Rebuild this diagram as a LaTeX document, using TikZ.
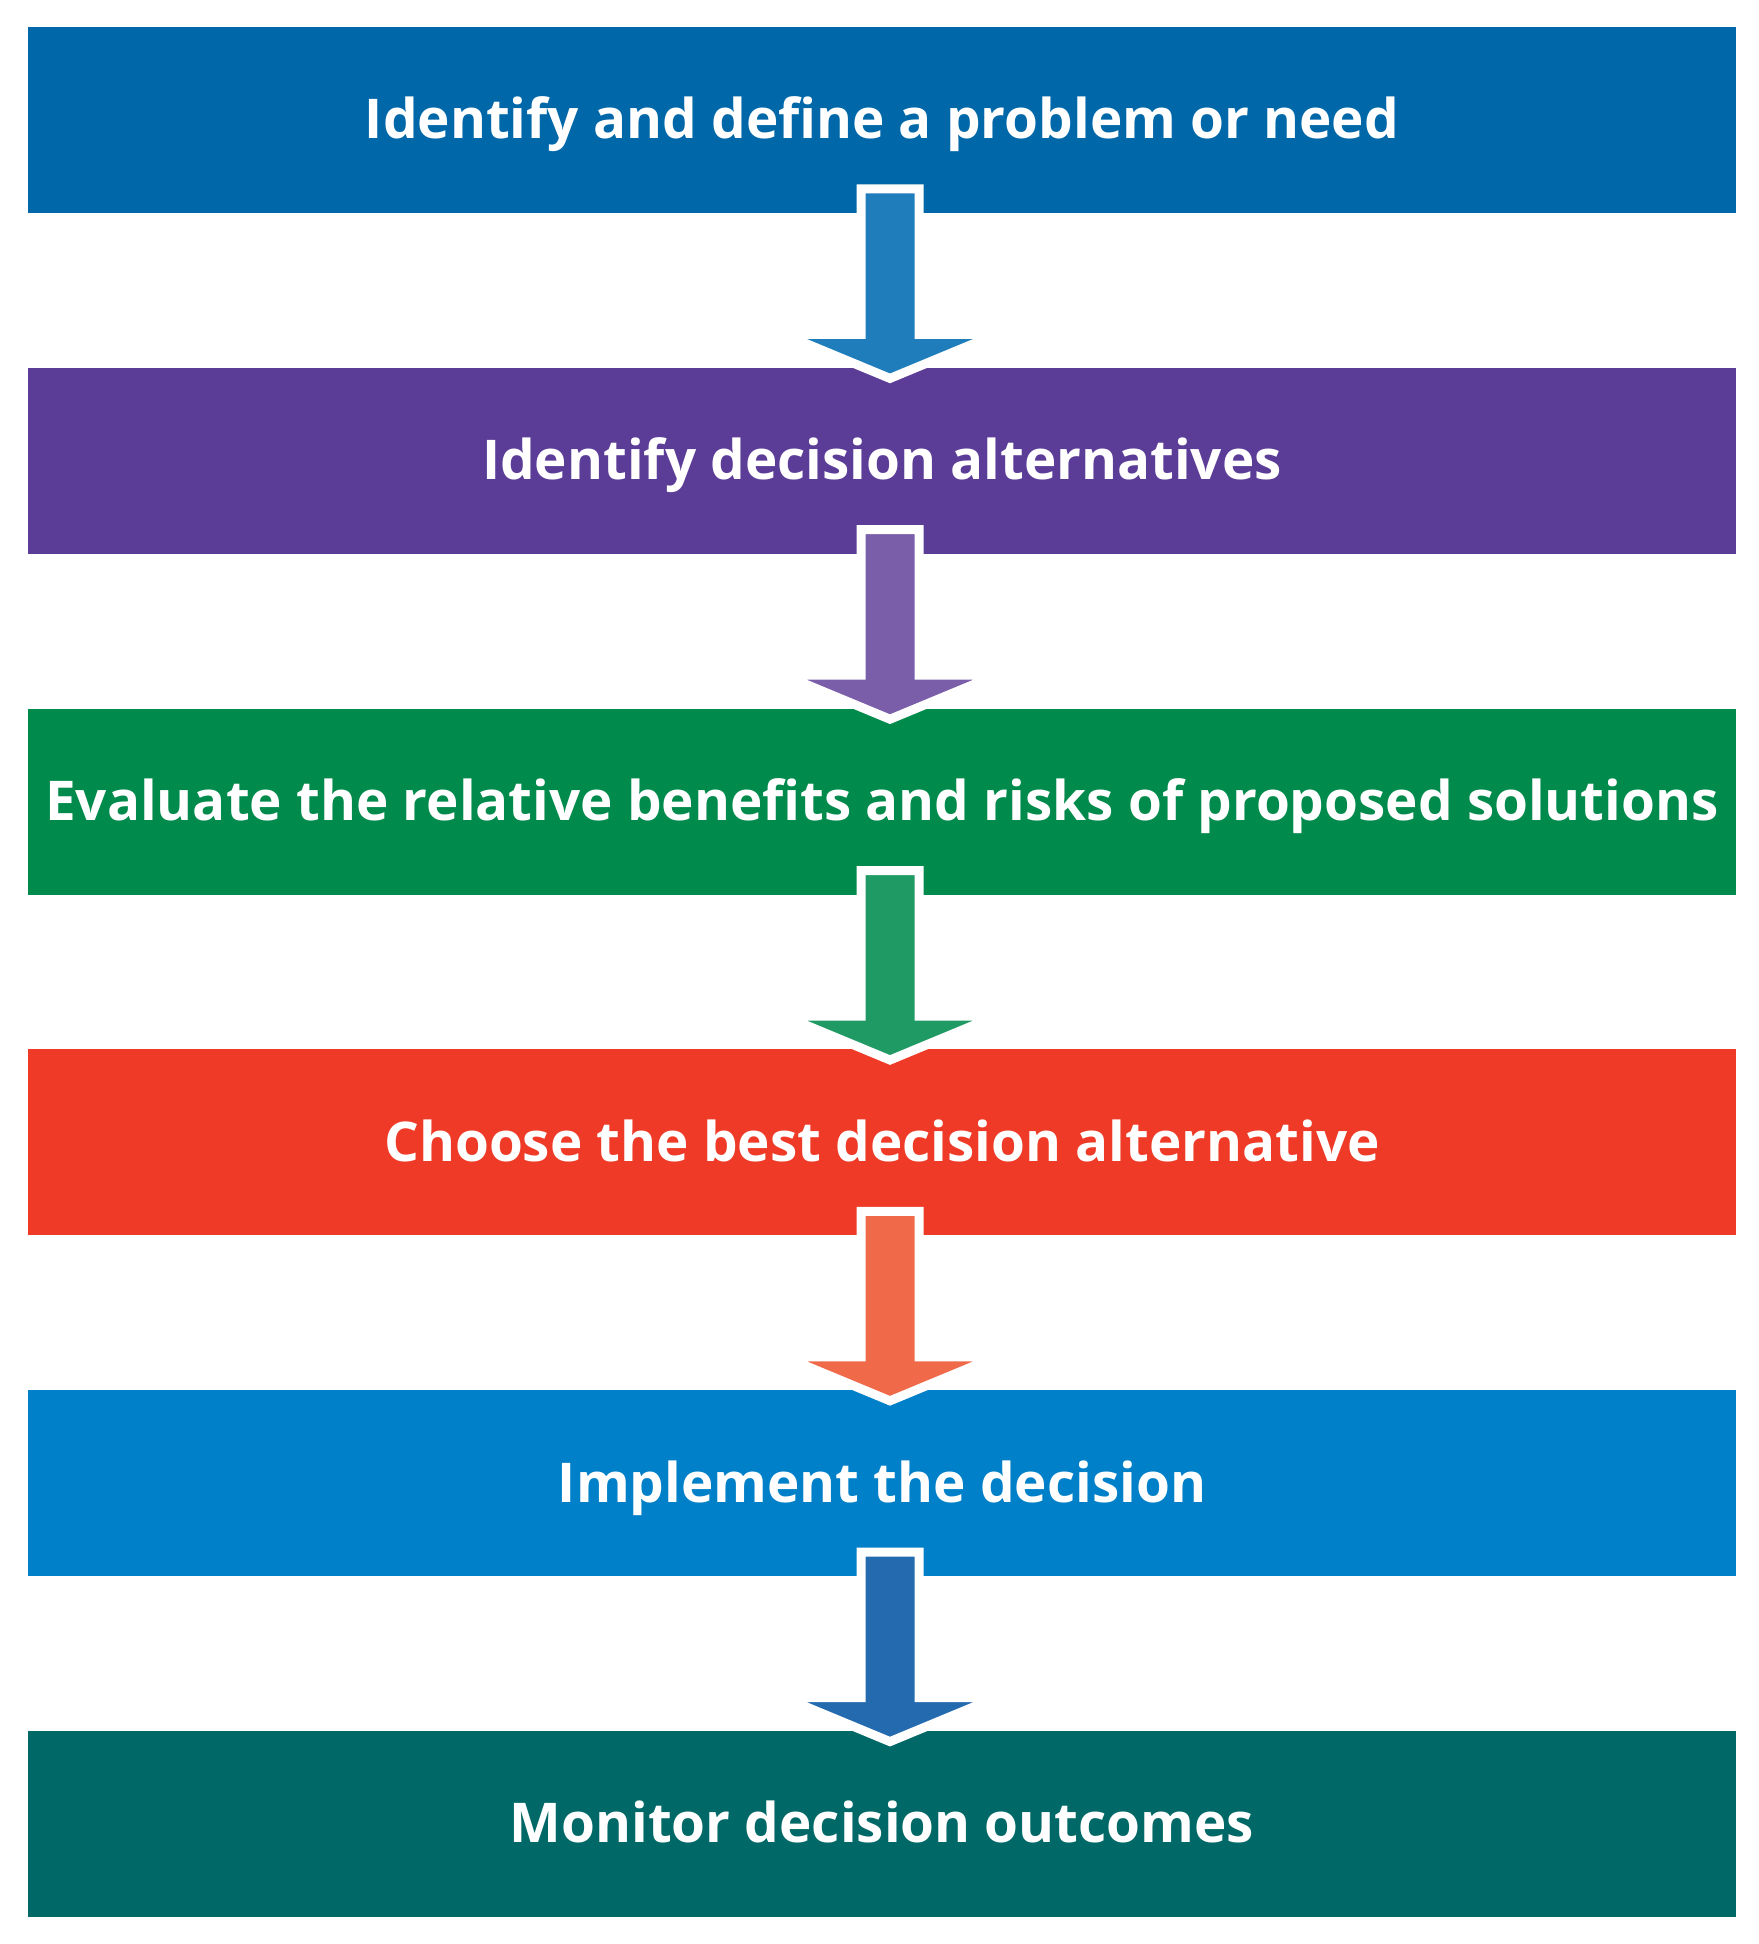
\documentclass[tikz,border=0pt]{standalone}
\usepackage{fontspec}
\setmainfont{Open Sans}
\usepackage{tikz}
\usetikzlibrary{calc}

\definecolor{needblue}{RGB}{0,104,169}
\definecolor{needarrow}{RGB}{31,125,188}
\definecolor{altpurple}{RGB}{91,60,150}
\definecolor{altarrow}{RGB}{122,94,170}
\definecolor{evalgreen}{RGB}{0,138,75}
\definecolor{evalarrow}{RGB}{31,154,100}
\definecolor{choosered}{RGB}{238,58,38}
\definecolor{choosearrow}{RGB}{240,106,74}
\definecolor{implblue}{RGB}{0,128,200}
\definecolor{implarrow}{RGB}{35,106,175}
\definecolor{monteal}{RGB}{0,104,102}

\tikzstyle{stage} = [rectangle, text=white, inner sep=0pt, minimum width=854pt, minimum height=93pt, text depth=2pt, font=\bfseries\fontsize{27.4}{33}\selectfont]
\tikzstyle{flow} = [draw=white, line width=4.5pt, line join=miter]

% block arrow hanging from the bottom of one stage into the next
\newcommand{\flowarrow}[2]{%
  \path[flow, fill=#2] ($(#1.south)+(-21,-24.5)$) -- ($(#1.south)+(37,-24.5)$)
    -- ($(#1.south)+(37,121)$) -- ($(#1.south)+(114,121)$) -- ($(#1.south)+(8,165)$)
    -- ($(#1.south)+(-98,121)$) -- ($(#1.south)+(-21,121)$) -- cycle;}

\begin{document}
\begin{tikzpicture}[x=0.5pt, y=-0.5pt, node distance=170.4pt]
  \useasboundingbox (0,0) rectangle (1758,1944);

  \node[stage, fill=needblue] at (882,120) (need) {Identify and define a problem or need};
  \node[stage, fill=altpurple, below of=need] (alts) {Identify decision alternatives};
  \node[stage, fill=evalgreen, below of=alts] (eval) {Evaluate the relative benefits and risks of proposed solutions};
  \node[stage, fill=choosered, below of=eval] (choose) {Choose the best decision alternative};
  \node[stage, fill=implblue, below of=choose] (impl) {Implement the decision};
  \node[stage, fill=monteal, below of=impl] (monitor) {Monitor decision outcomes};

  \flowarrow{need}{needarrow}
  \flowarrow{alts}{altarrow}
  \flowarrow{eval}{evalarrow}
  \flowarrow{choose}{choosearrow}
  \flowarrow{impl}{implarrow}

\end{tikzpicture}
\end{document}
